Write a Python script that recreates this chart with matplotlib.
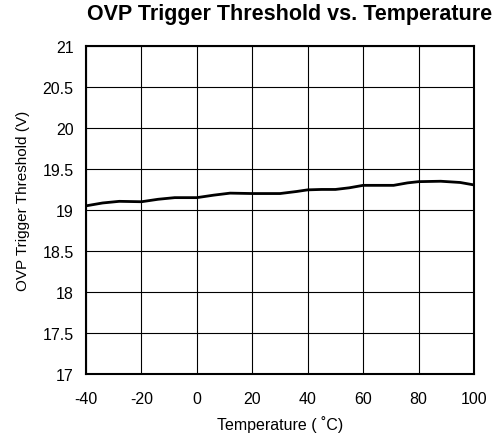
import matplotlib.pyplot as plt

plt.rcParams['font.family'] = ['Liberation Sans', 'DejaVu Sans']
plt.rcParams['axes.unicode_minus'] = False

# temperature (C) and threshold (V)
temps = [-40, -34, -28, -20, -14, -8, 0, 6, 12, 20, 30, 36, 40, 45, 50, 55, 60, 65, 71, 76, 80, 88, 95, 100]
volts = [19.05, 19.085, 19.105, 19.10, 19.13, 19.15, 19.15, 19.18, 19.205, 19.20, 19.20, 19.225, 19.245,
         19.25, 19.25, 19.27, 19.30, 19.30, 19.30, 19.33, 19.345, 19.35, 19.335, 19.305]

xticks = [-40, -20, 0, 20, 40, 60, 80, 100]
yticks = [17, 17.5, 18, 18.5, 19, 19.5, 20, 20.5, 21]
ylabels = ['17', '17.5', '18', '18.5', '19', '19.5', '20', '20.5', '21']

fig = plt.figure(figsize=(5, 4.39), dpi=100)
ax = fig.add_axes([0.172, 0.146, 0.776, 0.747])

ax.plot(temps, volts, color='black', linewidth=2)

ax.set_xlim(-40, 100)
ax.set_ylim(17, 21)
ax.set_xticks(xticks)
ax.set_yticks(yticks)
ax.set_yticklabels(ylabels)
ax.tick_params(length=0, labelsize=11.5)
ax.tick_params(axis='x', pad=12)
ax.tick_params(axis='y', pad=9)
ax.grid(True, color='black', linewidth=0.8)
for s in ax.spines.values():
    s.set_linewidth(1.5)

ax.set_xlabel('Temperature ( \u02daC)', fontsize=11.5)
ax.xaxis.set_label_coords(0.5, -0.125)
ax.set_ylabel('OVP Trigger Threshold (V)', fontsize=11)
ax.yaxis.set_label_coords(-0.145, 0.53)
fig.text(0.58, 0.968, 'OVP Trigger Threshold vs. Temperature', fontsize=15.5,
         fontweight='bold', ha='center', va='center')

fig.savefig('out.png')
